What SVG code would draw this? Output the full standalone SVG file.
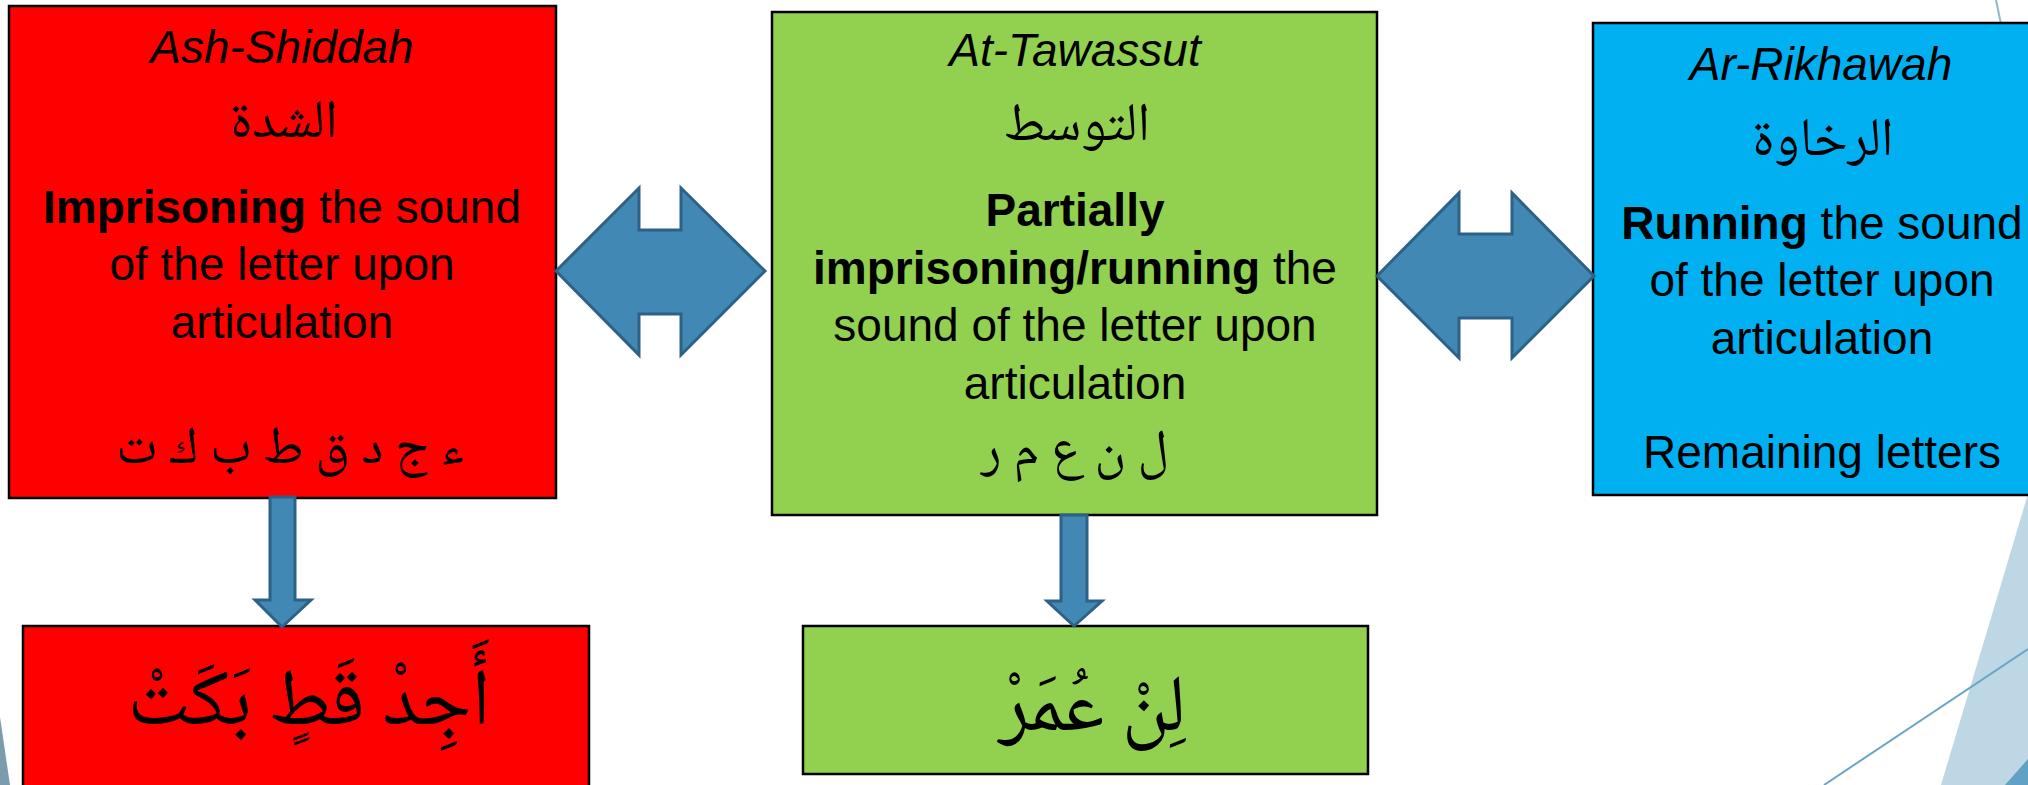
<svg xmlns="http://www.w3.org/2000/svg" width="2028" height="785" viewBox="0 0 2028 785">
<style>
.box{stroke:#000;stroke-width:2.5}
.red{fill:#FF0000}
.green{fill:#92D050}
.blue{fill:#00B0F0}
.t{font-family:"Liberation Sans",Arial,sans-serif;font-size:46px;fill:#000;text-anchor:middle}
.it{font-style:italic}
.b{font-weight:bold}
.ar{font-family:"Noto Naskh Arabic","Noto Sans Arabic","DejaVu Sans",serif;fill:#000;text-anchor:middle}
.arrow{fill:#4189B4;stroke:#2E6186;stroke-width:3;stroke-linejoin:miter}
</style>
<rect width="2028" height="785" fill="#fff"/>
<g id="background">
<line x1="1996" y1="0" x2="2001" y2="24" stroke="#8FB8D0" stroke-width="2"/>
<polygon points="2028,494 1941,785 2028,785" fill="#BDD7E4"/>
<line x1="2028" y1="649" x2="1824" y2="785" stroke="#6BA5C8" stroke-width="2"/>
<polygon points="2028,759 2005,785 2028,785" fill="#62A0C5"/>
<polygon points="0,717 10,785 0,785" fill="#7C9CAE"/>
</g>
<g id="node-shiddah">
<rect class="box red" x="9" y="6" width="547" height="492"/>
<text class="t it" x="282" y="63">Ash-Shiddah</text>
<text class="ar" x="284" y="137" font-size="54">الشدة</text>
<text class="t" x="282" y="223"><tspan class="b">Imprisoning</tspan> the sound</text>
<text class="t" x="282" y="280">of the letter upon</text>
<text class="t" x="282" y="338">articulation</text>
<text class="ar" x="290" y="463" font-size="53">ء ج د ق ط ب ك ت</text>
</g>
<g id="node-tawassut">
<rect class="box green" x="772" y="12" width="605" height="503"/>
<text class="t it" x="1075" y="66">At-Tawassut</text>
<text class="ar" x="1077" y="140" font-size="54">التوسط</text>
<text class="t b" x="1075" y="226">Partially</text>
<text class="t" x="1075" y="284"><tspan class="b">imprisoning/running</tspan> the</text>
<text class="t" x="1075" y="341">sound of the letter upon</text>
<text class="t" x="1075" y="399">articulation</text>
<text class="ar" x="1075" y="466" font-size="53">ل ن ع م ر</text>
</g>
<g id="node-rikhawah">
<rect class="box blue" x="1593" y="23" width="460" height="472"/>
<text class="t it" x="1821" y="80">Ar-Rikhawah</text>
<text class="ar" x="1823" y="155" font-size="54">الرخاوة</text>
<text class="t" x="1822" y="239"><tspan class="b">Running</tspan> the sound</text>
<text class="t" x="1822" y="296">of the letter upon</text>
<text class="t" x="1822" y="354">articulation</text>
<text class="t" x="1822" y="468">Remaining letters</text>
</g>
<g id="node-ajid">
<rect class="box red" x="23" y="626" width="566" height="170"/>
<text class="ar" x="309" y="724" font-size="80">أَجِدْ قَطٍ بَكَتْ</text>
</g>
<g id="node-lin">
<rect class="box green" x="803" y="626" width="565" height="148"/>
<text class="ar" x="1092" y="730" font-size="80">لِنْ عُمَرْ</text>
</g>
<g id="connectors">
<polygon class="arrow" points="556,271 639,188 639,230 681,230 681,188 765,271 681,355 681,314 639,314 639,355"/>
<polygon class="arrow" points="1377,276 1459,193 1459,234 1512,234 1512,193 1594,276 1512,358 1512,318 1459,318 1459,358"/>
<polygon class="arrow" points="270,497 295,497 295,600 311,600 282,627 255,600 270,600"/>
<polygon class="arrow" points="1061,515 1087,515 1087,601 1102,601 1074,626 1047,601 1061,601"/>
</g>
</svg>
